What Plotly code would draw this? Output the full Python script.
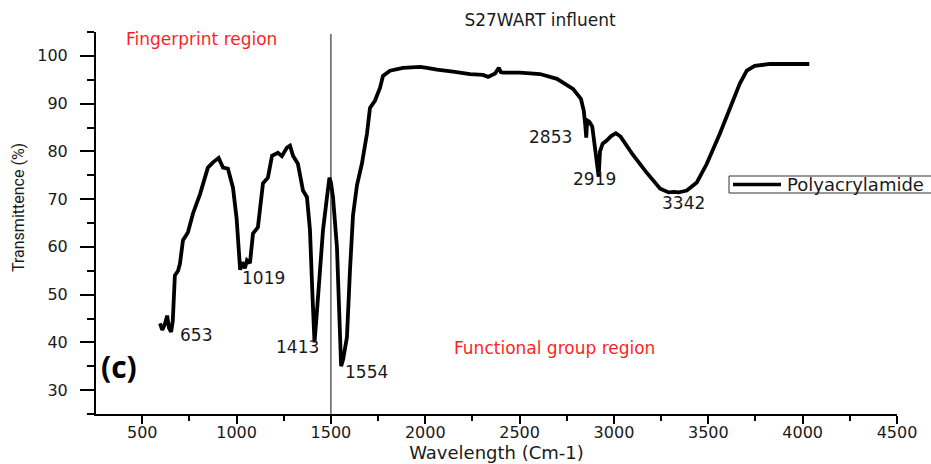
import plotly.graph_objects as go

# FTIR spectrum of the S27WART influent sample
wavenumber = [
    594, 606, 620, 632, 642, 653, 662, 668, 673, 690, 700, 716, 742, 769, 806,
    848, 875, 905, 918, 928, 954, 981, 1000, 1010, 1019, 1030, 1044, 1055, 1071,
    1087, 1113, 1140, 1166, 1188, 1219, 1240, 1267, 1283, 1299, 1325, 1352, 1373,
    1389, 1402, 1413, 1425, 1442, 1458, 1479, 1492, 1500, 1511, 1532, 1545, 1554,
    1565, 1585, 1601, 1617, 1638, 1664, 1691, 1707, 1733, 1760, 1776, 1813, 1882,
    1972, 2009, 2062, 2147, 2173, 2237, 2306, 2333, 2370, 2390, 2400, 2412, 2502,
    2608, 2698, 2783, 2825, 2840, 2848, 2853, 2858, 2870, 2885, 2900, 2912, 2919,
    2926, 2940, 2960, 2985, 3010, 3035, 3100, 3170, 3245, 3290, 3320, 3342, 3365,
    3386, 3439, 3492, 3561, 3614, 3667, 3704, 3746, 3826, 3920, 4035,
]
transmittance = [
    44.0, 42.6, 43.8, 45.6, 43.0, 42.2, 44.5, 48.5, 54.0, 55.0, 56.5, 61.4, 63.0,
    67.0, 71.0, 76.6, 77.7, 78.6, 77.5, 76.6, 76.4, 72.4, 66.0, 60.0, 55.2, 56.8,
    55.5, 57.2, 56.6, 62.8, 64.1, 73.3, 74.5, 79.1, 79.7, 79.0, 80.8, 81.2, 79.1,
    77.4, 71.8, 70.4, 63.5, 50.0, 40.0, 46.0, 55.0, 63.5, 70.4, 74.5, 73.5, 70.4,
    59.9, 46.0, 35.0, 36.5, 41.1, 55.1, 66.6, 72.9, 77.4, 83.7, 89.1, 90.6, 93.3,
    95.8, 96.9, 97.5, 97.7, 97.5, 97.1, 96.7, 96.5, 96.2, 96.0, 95.6, 96.3, 97.5,
    96.6, 96.5, 96.5, 96.2, 95.2, 93.1, 91.0, 88.5, 85.5, 82.9, 86.5, 86.2, 85.2,
    81.0, 77.0, 74.7, 80.0, 81.6, 82.2, 83.2, 83.8, 83.1, 79.3, 75.7, 72.2, 71.4,
    71.5, 71.4, 71.6, 71.8, 73.5, 77.4, 83.7, 89.1, 94.2, 96.9, 97.9, 98.3, 98.3,
    98.3,
]

# Labelled absorption bands: (text, label x, label y)
peak_labels = ["653", "1019", "1413", "1554", "2853", "2919", "3342"]
peak_label_x = [690, 1019, 1198, 1564, 2539, 2772, 3243]
peak_label_y = [41.5, 53.4, 39.0, 33.8, 83.1, 74.3, 69.1]

x_ticks = [500, 1000, 1500, 2000, 2500, 3000, 3500, 4000, 4500]
y_ticks = [30, 40, 50, 60, 70, 80, 90, 100]

series_name = "Polyacrylamide"

FONT = "DejaVu Sans, Arial, sans-serif"
INK = "#1a1a1a"
RED = "#ff1f1f"

# plot area in pixels (left, right, top, bottom)
PL, PR, PT, PB = 96, 897, 32, 414


def px_x(p):
    return (p - PL) / (PR - PL)


def px_y(p):
    return (PB - p) / (PB - PT)


fig = go.Figure()
fig.add_trace(go.Scatter(
    x=wavenumber, y=transmittance, mode="lines",
    name=series_name, showlegend=False,
    line=dict(color="black", width=3.8),
))

# Divider between the fingerprint and functional group regions
fig.add_shape(type="line", xref="x", yref="paper", x0=1500, x1=1500,
              y0=0, y1=0.995, line=dict(color="#111111", width=1))

for txt, lx, ly in zip(peak_labels, peak_label_x, peak_label_y):
    fig.add_annotation(x=lx, y=ly, xref="x", yref="y", text=txt,
                       showarrow=False, xanchor="left", yanchor="middle",
                       font=dict(family=FONT, size=17, color=INK))

fig.add_annotation(x=px_x(124), y=px_y(39), xref="paper", yref="paper",
                   text="Fingerprint region", showarrow=False,
                   xanchor="left", yanchor="middle",
                   font=dict(family=FONT, size=17, color=RED))
fig.add_annotation(x=px_x(452), y=px_y(348), xref="paper", yref="paper",
                   text="Functional group region", showarrow=False,
                   xanchor="left", yanchor="middle",
                   font=dict(family=FONT, size=17, color=RED))
fig.add_annotation(x=px_x(99), y=px_y(366), xref="paper", yref="paper",
                   text="<b>(c)</b>", showarrow=False,
                   xanchor="left", yanchor="middle",
                   font=dict(family="Open Sans, Arial, sans-serif", size=30, color="black"))
fig.add_annotation(x=px_x(18), y=px_y(208), xref="paper", yref="paper",
                   text="Transmittence (%)", showarrow=False, textangle=-90,
                   xanchor="center", yanchor="middle",
                   font=dict(family="Liberation Sans Narrow, Arial Narrow, Roboto, sans-serif",
                             size=16, color=INK))

# Legend box (runs off the right edge of the page)
fig.add_shape(type="rect", xref="paper", yref="paper",
              x0=px_x(729), x1=px_x(960), y0=px_y(193), y1=px_y(176),
              line=dict(color="#333333", width=1), fillcolor="white")
fig.add_shape(type="line", xref="paper", yref="paper",
              x0=px_x(733), x1=px_x(781), y0=px_y(184.5), y1=px_y(184.5),
              line=dict(color="black", width=3.6))
fig.add_annotation(x=px_x(785), y=px_y(184.5), xref="paper", yref="paper",
                   text=series_name, showarrow=False,
                   xanchor="left", yanchor="middle",
                   font=dict(family=FONT, size=18, color=INK))

axis_common = dict(
    showgrid=False, zeroline=False, showline=True, linecolor="black", linewidth=2,
    ticks="outside", tickcolor="black", tickwidth=2,
    tickfont=dict(family=FONT, size=16, color=INK),
    mirror=False,
)

fig.update_layout(
    width=931, height=464,
    margin=dict(l=PL, r=931 - PR, t=PT, b=464 - PB, autoexpand=False),
    paper_bgcolor="white", plot_bgcolor="white",
    title=dict(text="S27WART influent", x=540 / 931, xref="container",
               xanchor="center", y=1 - 20 / 464, yref="container", yanchor="middle",
               font=dict(family=FONT, size=17, color=INK)),
    xaxis=dict(
        axis_common, range=[255, 4500], tickvals=x_ticks, ticklen=8,
        ticklabelstandoff=-5,
        minor=dict(ticks="outside", dtick=250, tick0=0, ticklen=5,
                   tickwidth=2, tickcolor="black"),
        title=dict(text="Wavelength (Cm-1)", standoff=4,
                   font=dict(family=FONT, size=18, color=INK)),
    ),
    yaxis=dict(
        axis_common, range=[25, 105], tickvals=y_ticks, ticklen=14,
        ticklabelstandoff=9,
        minor=dict(ticks="outside", dtick=5, tick0=0, ticklen=7,
                   tickwidth=2, tickcolor="black"),
    ),
    showlegend=False,
)

fig.write_html("out.html")
